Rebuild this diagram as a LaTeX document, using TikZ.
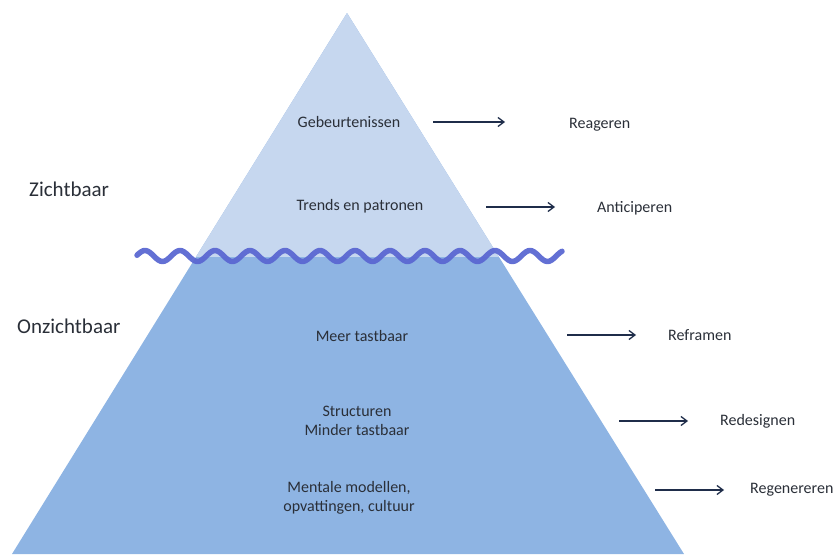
\documentclass[tikz,border=0pt]{standalone}
\usepackage{fontspec}
\setmainfont{Carlito}
\usetikzlibrary{arrows.meta}
\definecolor{iceTop}{HTML}{C6D7EF}
\definecolor{iceBottom}{HTML}{8EB4E3}
\definecolor{waveBlue}{HTML}{5B68D2}
\definecolor{arrowNavy}{HTML}{1F2D4A}
\definecolor{txt}{HTML}{2A2F38}
\tikzset{
  lvl/.style={text=txt, font=\fontsize{16}{19.5}\selectfont, align=center, inner sep=0pt},
  act/.style={text=txt, font=\fontsize{16}{19.5}\selectfont, anchor=west, inner sep=0pt},
  side/.style={text=txt, font=\fontsize{21}{25}\selectfont, anchor=west, inner sep=0pt},
  flow/.style={draw=arrowNavy, line width=1.3pt, -{Straight Barb[length=6pt,width=9pt,line width=1.3pt]}}
}
\begin{document}
\begin{tikzpicture}[x=1pt,y=-1pt]
\useasboundingbox (0,0) rectangle (835,554);
% iceberg body
\coordinate (apex) at (347,13);
\coordinate (bl) at (12,554);
\coordinate (br) at (684,554);
\fill[iceBottom] (apex) -- (bl) -- (br) -- cycle;
\begin{scope}
  \clip (0,0) rectangle (835,256);
  \fill[iceTop] (apex) -- (bl) -- (br) -- cycle;
\end{scope}
% water line
\draw[waveBlue, line width=5.5pt, line cap=round, line join=round, opacity=0.95]
  plot[domain=137:562, samples=200, smooth] (\x, {256 - 5.5*cos((\x-180)/35*360)});
% side labels
\node[side] (zicht) at (29,189) {Zichtbaar};
\node[side] (onzicht) at (17,326) {Onzichtbaar};
% levels
\node[lvl] (l1) at (349,122) {Gebeurtenissen};
\node[lvl] (l2) at (360,206) {Trends en patronen};
\node[lvl] (l3) at (362,336) {Meer tastbaar};
\node[lvl] (l4) at (357,421) {Structuren\\Minder tastbaar};
\node[lvl] (l5) at (349,498) {Mentale modellen,\\opvattingen, cultuur};
% responses
\node[act] (a1) at (569,125) {Reageren};
\node[act] (a2) at (597,208) {Anticiperen};
\node[act] (a3) at (668,335) {Reframen};
\node[act] (a4) at (720,421) {Redesignen};
\node[act] (a5) at (750,490) {Regenereren};
% arrows
\coordinate (s1) at (433,122); \coordinate (e1) at (505,122);
\coordinate (s2) at (486,207); \coordinate (e2) at (555,207);
\coordinate (s3) at (567,335); \coordinate (e3) at (636,335);
\coordinate (s4) at (619,421); \coordinate (e4) at (688,421);
\coordinate (s5) at (655,490); \coordinate (e5) at (724,490);
\foreach \i in {1,...,5} \draw[flow] (s\i) -- (e\i);
\end{tikzpicture}
\end{document}
